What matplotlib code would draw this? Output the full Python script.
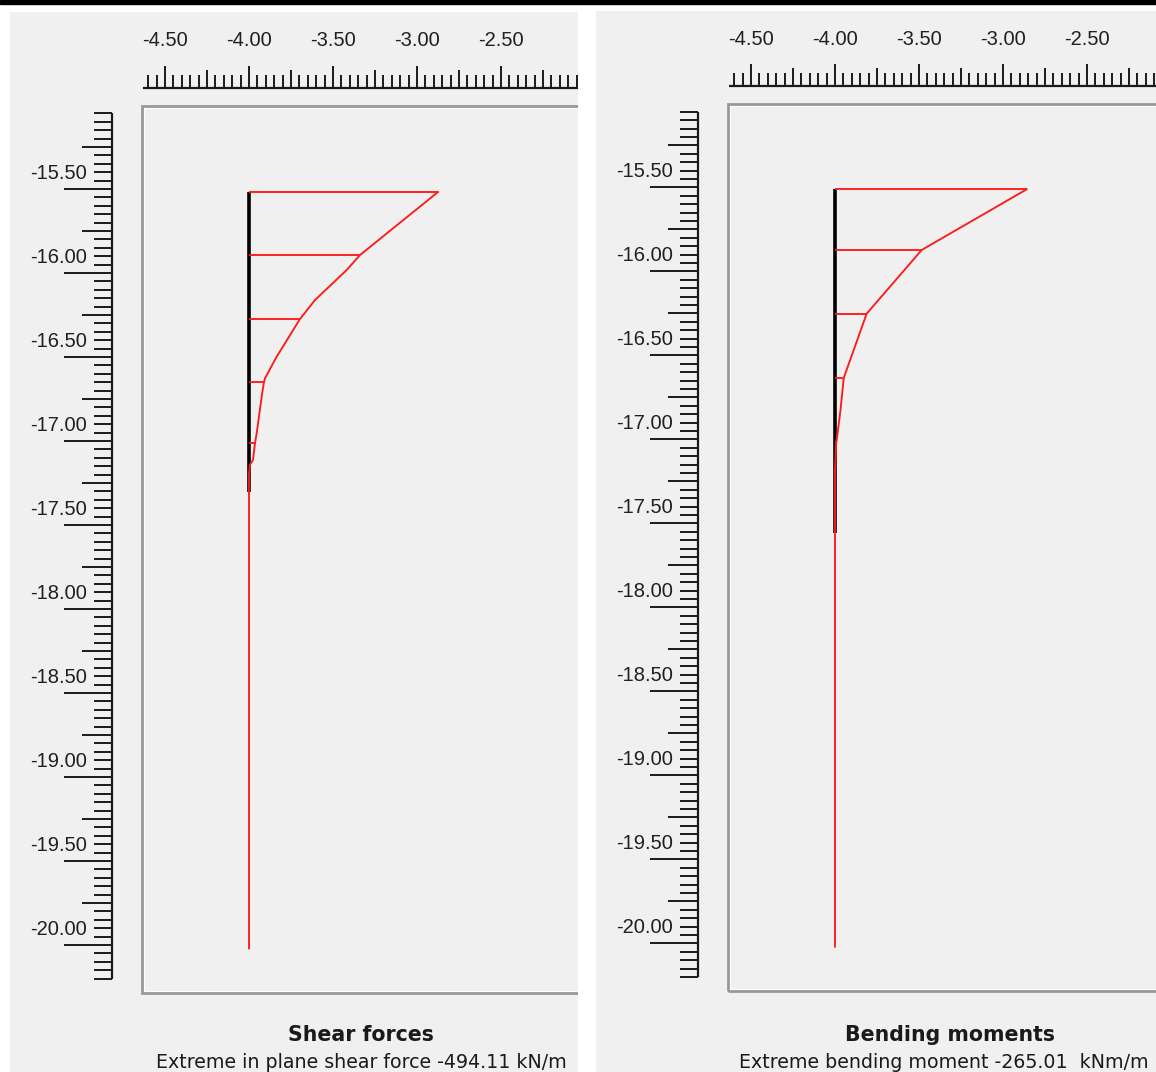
import numpy as np
import matplotlib
matplotlib.use("Agg")
import matplotlib.pyplot as plt
from matplotlib.patches import Rectangle

W, H = 1156, 1072
PX = 168.0  # screen pixels per metre

# --- structural forces along the wall (depth in m) -------------------------
shear_depth = [-15.518, -15.893, -15.982, -16.161, -16.274, -16.498, -16.627,
               -16.649, -16.710, -16.954, -17.012, -17.113, -17.143, -17.200, -20.02]
shear_force = [-494.11, -290.2, -255.4, -172.5, -133.3, -72.4, -41.8,
               -39.2, -34.8, -20.1, -15.7, -10.5, -2.0, 0.0, 0.0]  # kN/m
shear_nodes = [-15.518, -15.893, -16.274, -16.649, -17.012]

moment_depth = [-15.512, -15.873, -16.252, -16.633, -16.707, -16.826, -16.945,
                -17.034, -17.183, -20.02]
moment_value = [-265.01, -119.9, -43.8, -12.2, -10.4, -7.6, -4.1,
                -1.4, 0.0, 0.0]  # kNm/m
moment_nodes = [-15.512, -15.873, -16.252, -16.633, -17.014]

wall_x = -4.0
wall_top = [-15.515, -15.512]
wall_bottom = [-17.304, -17.56]

x_labels = ["-4.50", "-4.00", "-3.50", "-3.00", "-2.50"]
y_labels = ["-15.50", "-16.00", "-16.50", "-17.00", "-17.50", "-18.00",
            "-18.50", "-19.00", "-19.50", "-20.00"]

titles = ["Shear forces", "Bending moments"]
subtitles = ["Extreme in plane shear force -494.11 kN/m",
             "Extreme bending moment -265.01  kNm/m"]

# diagram drawing scale: extreme value -> horizontal offset in metres
shear_scale = 1.125 / 494.11
moment_scale = 1.141 / 265.01

GREY = "#f0f0f0"
INK = "#1a1a1a"
RED = "#ff1a1a"

fig = plt.figure(figsize=(W / 100, H / 100), dpi=100, facecolor="white")
fig.patches.append(Rectangle((0, 1 - 3.5 / H), 1, 3.5 / H, color="black",
                             transform=fig.transFigure, zorder=5))


def panel_axes(left, right, top, x0, y0):
    # x0, y0: screen column of x=-4.0 and row of y=-15.5
    ax = fig.add_axes([left / W, 0, (right - left) / W, (H - top) / H])
    ax.set_xlim(-4 + (left - x0) / PX, -4 + (right - x0) / PX)
    ax.set_ylim(-15.5 - (H - y0) / PX, -15.5 + (y0 - top) / PX)
    ax.set_facecolor(GREY)
    ax.set_xticks([])
    ax.set_yticks([])
    for s in ax.spines.values():
        s.set_visible(False)
    return ax


def draw_rulers(ax):
    # top ruler (x)
    xt = np.round(np.arange(-4.60, -1.95, 0.05), 2)
    k = np.round(xt * 100).astype(int)
    h = np.where(k % 50 == 0, 0.131, np.where(k % 25 == 0, 0.107, 0.077))
    base = -14.899
    ax.vlines(xt, base, base + h, color=INK, lw=1.4)
    ax.hlines(base, -4.63, -1.9, color=INK, lw=1.6)
    for lab in x_labels:
        ax.text(float(lab), -14.619, lab, ha="center", va="center",
                fontsize=14.5, family="Liberation Sans", color="#202020")

    # left ruler (y)
    yt = np.round(np.arange(-20.20, -15.0, 0.05), 2)
    k = np.round(yt * 100).astype(int)
    ln = np.where(k % 50 == 0, 0.286, np.where(k % 25 == 0, 0.179, 0.107))
    bx = -4.815
    ax.hlines(yt, bx - ln, bx, color=INK, lw=1.4)
    ax.vlines(bx, yt.min(), yt.max(), color=INK, lw=1.6)
    for lab in y_labels:
        ax.text(-4.964, float(lab) + 0.092, lab, ha="right", va="center",
                fontsize=14.5, family="Liberation Sans", color="#202020")

    # plot frame
    ax.add_patch(Rectangle((-4.637, -20.286), 4.0, 5.28, fill=False,
                           ec="#999999", lw=2.0))
    ax.add_patch(Rectangle((-4.624, -20.273), 4.0, 5.254, fill=False,
                           ec="white", lw=0.7))


def draw_diagram(ax, depth, value, scale, nodes, top, bottom):
    ax.vlines(wall_x, bottom, top, color="black", lw=2.6, zorder=3)
    d = np.array(depth)
    xs = wall_x - scale * np.array(value)
    ax.plot(xs, d, color=RED, lw=1.35, zorder=4)
    ends = np.interp(nodes, d[::-1], xs[::-1])
    ax.hlines(nodes, wall_x, ends, color=RED, lw=1.35, zorder=4)


ax1 = panel_axes(10, 578, 12, 249, 189)
ax2 = panel_axes(596, 1156, 11, 835, 187.3)

draw_rulers(ax1)
draw_rulers(ax2)
draw_diagram(ax1, shear_depth, shear_force, shear_scale, shear_nodes,
             wall_top[0], wall_bottom[0])
draw_diagram(ax2, moment_depth, moment_value, moment_scale, moment_nodes,
             wall_top[1], wall_bottom[1])

for cx, sx, title, sub in zip([361, 950], [361, 944], titles, subtitles):
    fig.text(cx / W, 1 - 1041 / H, title, ha="center", va="baseline",
             fontsize=14.8, fontweight="bold", family="DejaVu Sans", color="#1a1a1a")
    fig.text(sx / W, 1 - 1068 / H, sub, ha="center", va="baseline",
             fontsize=13.7, family="DejaVu Sans", color="#1a1a1a")

fig.savefig("out.png", dpi=100, facecolor="white")
